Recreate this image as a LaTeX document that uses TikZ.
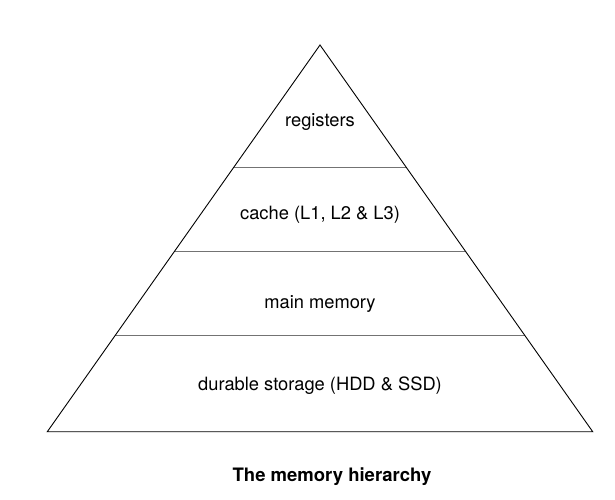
\documentclass[tikz,border=0pt]{standalone}
\usepackage{fontspec}
\setmainfont{TeX Gyre Heros}
\usetikzlibrary{calc}
\begin{document}
\begin{tikzpicture}[x=1pt,y=1pt,
  edge/.style={draw=black,line width=0.9pt,line join=miter},
  sep/.style={draw=black!55,line width=0.9pt},
  layer/.style={font=\fontsize{18.3}{20}\selectfont,anchor=base,inner sep=0pt},
  caption/.style={font=\fontsize{18.5}{20}\selectfont\bfseries,anchor=base,inner sep=0pt}]
\useasboundingbox (0,0) rectangle (615,499);
\coordinate (apex) at (320,454);
\coordinate (bl) at (47.3,67.3);
\coordinate (br) at (592.7,67.3);
\coordinate (s1l) at ($(apex)!0.3173!(bl)$);
\coordinate (s1r) at ($(apex)!0.3173!(br)$);
\coordinate (s2l) at ($(apex)!0.5345!(bl)$);
\coordinate (s2r) at ($(apex)!0.5345!(br)$);
\coordinate (s3l) at ($(apex)!0.75!(bl)$);
\coordinate (s3r) at ($(apex)!0.75!(br)$);
\draw[sep] (s1l) -- (s1r);
\draw[sep] (s2l) -- (s2r);
\draw[sep] (s3l) -- (s3r);
\draw[edge] (apex) -- (bl) -- (br) -- cycle;
\node[layer] (reg) at (320,372.3) {registers};
\node[layer] (cache) at (320,279.7) {cache (L1, L2 \& L3)};
\node[layer] (main) at (320,190.7) {main memory};
\node[layer] (dur) at (320,108.3) {durable storage (HDD \& SSD)};
\node[caption] (cap) at (332,17.3) {The memory hierarchy};
\end{tikzpicture}
\end{document}
